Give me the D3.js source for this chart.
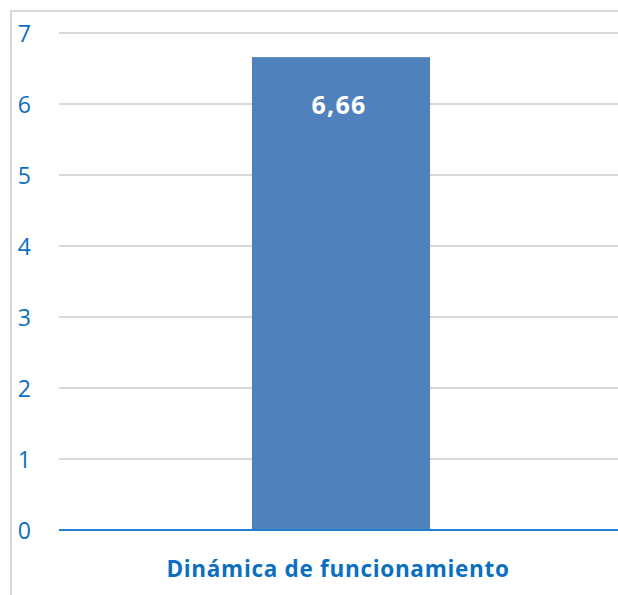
<!DOCTYPE html>
<html>
<head>
<meta charset="utf-8">
<script src="https://cdn.jsdelivr.net/npm/d3@7"></script>
<style>
  body { margin: 0; background: #fff; }
  svg { display: block; }
</style>
</head>
<body>
<svg></svg>
<script>
var categories = ["Dinámica de funcionamiento"]
var values = [6.66]
var valueLabels = ["6,66"]
var yTicks = [0, 1, 2, 3, 4, 5, 6, 7]

var width = 618;
var height = 595;

var svg = d3.select("svg")
    .attr("width", width)
    .attr("height", height);

var blue = "#0a6fc2";

// outer frame, cut off at right and bottom like the source
svg.append("rect")
    .attr("x", 11)
    .attr("y", 11)
    .attr("width", 700)
    .attr("height", 700)
    .attr("fill", "none")
    .attr("stroke", "#d9d9d9")
    .attr("stroke-width", 2);

var xScale = d3.scaleBand()
    .domain(categories)
    .range([59, 623])
    .padding(0.52);

var yScale = d3.scaleLinear()
    .domain([0, 7])
    .range([530, 33]);

// gridlines
svg.append("g")
    .selectAll("line")
    .data(yTicks.filter(d => d > 0))
    .enter()
    .append("line")
    .attr("x1", 59)
    .attr("x2", width)
    .attr("y1", d => yScale(d))
    .attr("y2", d => yScale(d))
    .attr("stroke", "#d9d9d9")
    .attr("stroke-width", 2);

// y axis labels
var yAxis = d3.axisLeft(yScale)
    .tickValues(yTicks)
    .tickSize(0)
    .tickPadding(0)
    .tickFormat(d3.format("d"));

var yg = svg.append("g")
    .attr("transform", "translate(31,0)")
    .call(yAxis);
yg.select(".domain").remove();
yg.selectAll("text")
    .attr("fill", blue)
    .attr("text-anchor", "end")
    .attr("dy", "0.36em")
    .style("font-family", "'Open Sans', sans-serif")
    .style("font-size", "23px");

// bars
svg.append("g")
    .selectAll("rect")
    .data(values)
    .enter()
    .append("rect")
    .attr("x", (d, i) => xScale(categories[i]))
    .attr("y", d => yScale(d))
    .attr("width", xScale.bandwidth())
    .attr("height", d => yScale(0) - yScale(d))
    .attr("fill", "#4f81bd");

// baseline
svg.append("line")
    .attr("x1", 59)
    .attr("x2", width)
    .attr("y1", yScale(0))
    .attr("y2", yScale(0))
    .attr("stroke", "#1f7fd0")
    .attr("stroke-width", 2);

// value labels
svg.append("g")
    .selectAll("text")
    .data(values)
    .enter()
    .append("text")
    .attr("x", (d, i) => xScale(categories[i]) + xScale.bandwidth() / 2 - 2)
    .attr("y", d => yScale(d) + 56.5)
    .attr("text-anchor", "middle")
    .attr("fill", "#fff")
    .style("font-family", "'Open Sans', sans-serif")
    .style("font-weight", "bold")
    .style("font-size", "25px")
    .style("letter-spacing", "1.2px")
    .text((d, i) => valueLabels[i]);

// category labels
var xAxis = d3.axisBottom(xScale).tickSize(0).tickPadding(0);
var xg = svg.append("g")
    .attr("transform", "translate(0,577)")
    .call(xAxis);
xg.select(".domain").remove();
xg.selectAll("text")
    .attr("fill", blue)
    .attr("dy", 0)
    .attr("x", -3)
    .style("font-family", "'Open Sans', sans-serif")
    .style("font-weight", "bold")
    .style("font-size", "22.5px")
    .style("letter-spacing", "0.7px");
</script>
</body>
</html>
